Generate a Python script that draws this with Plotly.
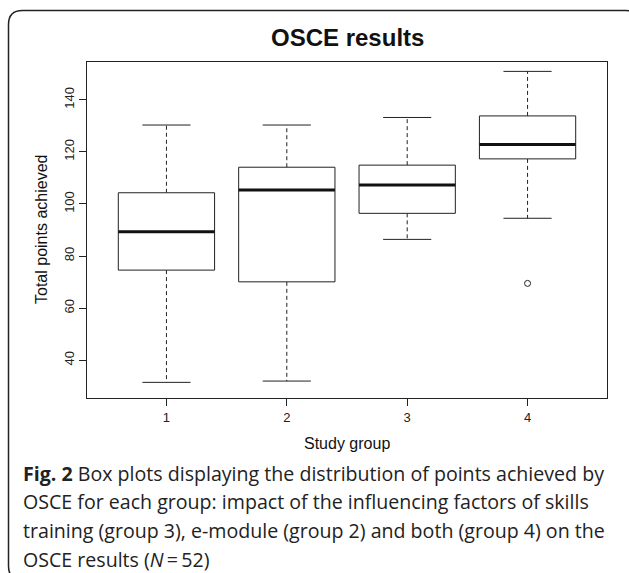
import plotly.graph_objects as go

# ---- data ----
groups = ["1", "2", "3", "4"]
group_pos = [1, 2, 3, 4]
lower_whisker = [31.5, 32.0, 86.4, 94.5]
q1 = [74.6, 70.1, 96.4, 117.3]
median = [89.3, 105.4, 107.3, 122.8]
q3 = [104.3, 114.1, 114.9, 133.8]
upper_whisker = [130.3, 130.3, 133.2, 150.9]
outlier_group = [4]
outlier_value = [69.5]
y_ticks = [40, 60, 80, 100, 120, 140]

caption_lines = [
    "<b>Fig. 2</b> Box plots displaying the distribution of points achieved by",
    "OSCE for each group: impact of the influencing factors of skills",
    "training (group 3), e-module (group 2) and both (group 4) on the",
    "OSCE results (<i>N</i>\u2009=\u200952)",
]

# ---- geometry ----
W, H = 629, 573
L, R, T, B = 87, 22, 62, 175
PW, PH = W - L - R, H - T - B
BOXW = 0.4
CAPW = 0.2
INK = "#222222"


def px(xp):
    return (xp - L) / PW


def py(yp):
    return 1 - (yp - T) / PH


fig = go.Figure()

# whiskers (dashed)
wx, wy = [], []
for g, lo, a, b, hi in zip(group_pos, lower_whisker, q1, q3, upper_whisker):
    wx += [g, g, None, g, g, None]
    wy += [b, hi, None, a, lo, None]
fig.add_trace(go.Scatter(x=wx, y=wy, mode="lines",
                         line=dict(color=INK, width=1, dash="4px,3px"),
                         hoverinfo="skip", showlegend=False))

# caps
cx, cy = [], []
for g, lo, hi in zip(group_pos, lower_whisker, upper_whisker):
    cx += [g - CAPW, g + CAPW, None, g - CAPW, g + CAPW, None]
    cy += [hi, hi, None, lo, lo, None]
fig.add_trace(go.Scatter(x=cx, y=cy, mode="lines",
                         line=dict(color=INK, width=1),
                         hoverinfo="skip", showlegend=False))

# boxes
for g, a, b in zip(group_pos, q1, q3):
    fig.add_trace(go.Scatter(
        x=[g - BOXW, g + BOXW, g + BOXW, g - BOXW, g - BOXW],
        y=[a, a, b, b, a], mode="lines", fill="toself", fillcolor="white",
        line=dict(color=INK, width=1), hoverinfo="skip", showlegend=False))

# medians
mx, my = [], []
for g, m in zip(group_pos, median):
    mx += [g - BOXW, g + BOXW, None]
    my += [m, m, None]
fig.add_trace(go.Scatter(x=mx, y=my, mode="lines",
                         line=dict(color="#111111", width=3),
                         hoverinfo="skip", showlegend=False))

# outliers
fig.add_trace(go.Scatter(x=outlier_group, y=outlier_value, mode="markers",
                         marker=dict(symbol="circle-open", size=6,
                                     color=INK, line=dict(width=1)),
                         hoverinfo="skip", showlegend=False))

axis_font = dict(family="Liberation Sans, Arial, sans-serif", size=13, color="#222")

fig.update_xaxes(range=[0.34, 4.66], tickmode="array", tickvals=group_pos,
                 ticktext=groups, ticks="outside", ticklen=7, tickcolor=INK,
                 showline=True, mirror=True, linecolor=INK, linewidth=1,
                 showgrid=False, zeroline=False, tickfont=axis_font)
fig.update_yaxes(range=[25.5, 154.5], tickmode="array", tickvals=y_ticks,
                 ticks="outside", ticklen=7, tickcolor=INK, tickangle=-90,
                 showline=True, mirror=True, linecolor=INK, linewidth=1,
                 showgrid=False, zeroline=False, tickfont=axis_font)

ann = []
ann.append(dict(text="<b>OSCE results</b>", x=px(347), y=py(37),
                xref="paper", yref="paper", showarrow=False,
                xanchor="center", yanchor="middle",
                font=dict(family="Liberation Sans, Arial, sans-serif", size=24, color="#111")))
ann.append(dict(text="Total points achieved", x=px(41), y=py(230),
                xref="paper", yref="paper", showarrow=False, textangle=-90,
                xanchor="center", yanchor="middle",
                font=dict(family="Liberation Sans, Arial, sans-serif", size=16, color="#111")))
ann.append(dict(text="Study group", x=px(347), y=py(443),
                xref="paper", yref="paper", showarrow=False,
                xanchor="center", yanchor="middle",
                font=dict(family="Liberation Sans, Arial, sans-serif", size=16, color="#111")))
for i, line in enumerate(caption_lines):
    ann.append(dict(text=line, x=px(21), y=py(473 + 28.7 * i),
                    xref="paper", yref="paper", showarrow=False,
                    xanchor="left", yanchor="middle",
                    font=dict(family="Open Sans, sans-serif", size=19.6, color="#222")))

# rounded border
x0, x1, y0, y1, r = 8.5, 640, 10.5, 580, 14
path = (f"M {px(x0)},{py(y0 + r)} "
        f"Q {px(x0)},{py(y0)} {px(x0 + r)},{py(y0)} "
        f"L {px(x1 - r)},{py(y0)} "
        f"Q {px(x1)},{py(y0)} {px(x1)},{py(y0 + r)} "
        f"L {px(x1)},{py(y1 - r)} "
        f"Q {px(x1)},{py(y1)} {px(x1 - r)},{py(y1)} "
        f"L {px(x0 + r)},{py(y1)} "
        f"Q {px(x0)},{py(y1)} {px(x0)},{py(y1 - r)} Z")

fig.update_layout(
    width=W, height=H,
    margin=dict(l=L, r=R, t=T, b=B),
    paper_bgcolor="white", plot_bgcolor="white",
    annotations=ann,
    shapes=[dict(type="path", path=path, xref="paper", yref="paper",
                 line=dict(color="#222", width=1.5), layer="below")],
    showlegend=False,
)

fig.write_html("out.html",
               config={"displayModeBar": False},
               post_script="document.body.style.margin='0';"
                           "document.body.style.overflow='hidden';")
